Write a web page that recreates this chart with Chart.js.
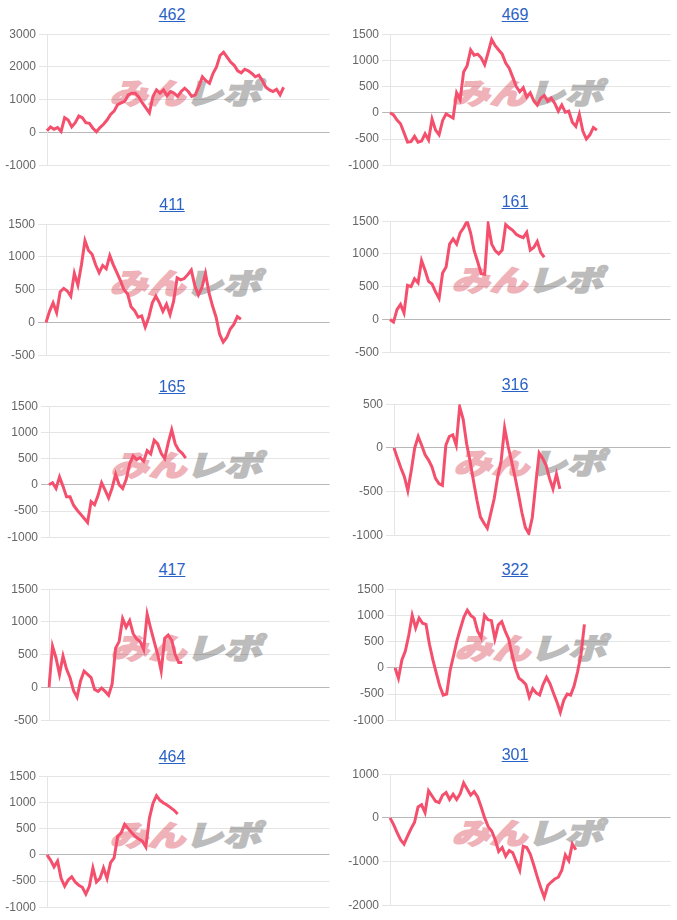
<!DOCTYPE html>
<html><head><meta charset="utf-8">
<script src="https://cdn.jsdelivr.net/npm/chart.js@4.4.0/dist/chart.umd.min.js"></script>
<style>
body{margin:0;background:#fff;}
#page{position:relative;width:677px;height:920px;overflow:hidden;font-family:"Liberation Sans",Arial,sans-serif;}
.title{position:absolute;width:344px;text-align:center;font-size:16px;line-height:18px;z-index:2;}
.title a{color:#2a62c4;text-decoration:underline;}
.wm{position:absolute;font-family:"Noto Sans CJK JP",sans-serif;font-weight:900;font-size:29px;line-height:32px;white-space:nowrap;transform:translate(-50%,-50%) skewX(-16deg) scaleX(1.3);letter-spacing:0px;z-index:0;}
.wm .p{color:#f0b2b9;-webkit-text-stroke:1.6px #f0b2b9;}
.wm .g{color:#bcbcbc;-webkit-text-stroke:1.6px #bcbcbc;}
canvas{position:absolute;z-index:1;}
</style></head>
<body><div id="page"></div>
<script>
// ---- data ----
const chartTitles = ["462","469","411","161","165","316","417","322","464","301"];
const dayLabels = Array.from({length:81}, (_, i) => String(i + 1));

const d462 = [50,170,100,150,30,450,380,170,300,500,450,300,280,130,20,150,250,380,550,650,850,900,950,1150,1200,1200,1080,900,750,600,1100,1300,1200,1300,1120,1250,1200,1100,1250,1350,1250,1100,1150,1400,1700,1580,1500,1800,2000,2350,2450,2300,2150,2050,1880,1820,1930,1880,1800,1700,1750,1580,1380,1300,1250,1320,1150,1380];
const d469 = [0,-40,-140,-210,-380,-560,-550,-450,-560,-540,-400,-520,-120,-330,-420,-150,-20,-60,-100,380,250,780,900,1200,1100,1120,1050,920,1150,1400,1280,1200,1120,950,850,680,500,400,480,300,380,230,150,280,330,220,280,180,30,150,10,30,-180,-260,-30,-350,-500,-420,-280,-330];
const d411 = [0,170,300,150,470,520,480,400,750,570,880,1250,1100,1040,880,760,870,820,1020,880,760,640,500,440,240,180,80,100,-70,80,300,400,300,170,280,120,320,680,650,670,730,800,560,420,530,750,450,250,80,-180,-300,-230,-100,-30,90,50];
const d161 = [0,-40,150,230,100,520,500,620,560,900,750,580,540,420,320,710,800,1150,1230,1150,1320,1400,1500,1320,1050,880,700,690,1450,1150,1050,1000,1060,1450,1400,1360,1300,1270,1250,1330,1060,1100,1190,1020,950];
const d165 = [0,40,-70,150,-30,-230,-230,-390,-480,-560,-640,-720,-320,-380,-200,40,-100,-250,-60,200,0,-70,100,400,550,480,520,450,650,590,850,780,600,500,800,1050,780,660,600,510];
const d316 = [0,-120,-230,-330,-490,-260,0,130,30,-80,-140,-220,-350,-410,-430,30,130,150,30,470,330,50,-150,-380,-600,-790,-860,-920,-750,-580,-330,-150,230,20,-150,-330,-530,-740,-910,-980,-800,-420,-60,-120,-200,-350,-470,-300,-470];
const d417 = [0,630,450,200,480,280,150,-50,-150,100,250,200,150,-30,-60,-10,-60,-120,50,600,700,1050,920,1020,820,740,700,580,1120,900,700,500,250,750,800,720,500,380,380];
const d322 = [0,-200,150,320,620,1000,760,950,850,830,450,150,-100,-350,-520,-500,-50,230,520,750,970,1100,1000,950,700,580,1000,920,900,550,820,880,700,550,250,-20,-200,-250,-320,-560,-400,-480,-520,-320,-180,-300,-480,-650,-850,-620,-500,-520,-350,-80,250,830];
const d464 = [0,-100,-230,-120,-450,-600,-480,-420,-520,-580,-620,-750,-600,-250,-520,-450,-250,-450,-150,-60,350,420,580,500,420,350,300,260,150,700,980,1130,1040,990,950,900,850,780];
const d301 = [0,-150,-330,-500,-600,-420,-250,-100,250,300,120,620,500,380,350,520,580,420,540,420,550,800,660,520,600,480,250,0,-200,-300,-500,-770,-680,-880,-750,-800,-1000,-1200,-650,-680,-830,-1080,-1350,-1600,-1820,-1550,-1470,-1400,-1360,-1200,-850,-980,-600,-730];

const yMin  = [-1000,-1000,-500,-500,-1000,-1000,-500,-1000,-1000,-2000];
const yMax  = [3000,1500,1500,1500,1500,500,1500,1500,1500,1000];
const yStep = [1000,500,500,500,500,500,500,500,500,1000];

const seriesList = [d462,d469,d411,d161,d165,d316,d417,d322,d464,d301];

// ---- layout ----
const colX = [0, 343];
const colW = [331, 329];
const plotTops = [34,34,224,221,406,404,589,589,776,774];
const axisWidths = [47,47,46,47,49,51,49,52,47,47];
const PLOT_H = 131;

const page = document.getElementById('page');

seriesList.forEach((data, i) => {
  const col = i % 2;
  const x0 = colX[col], w = colW[col], top = plotTops[i], aw = axisWidths[i];

  const t = document.createElement('div');
  t.className = 'title';
  t.style.left = x0 + 'px';
  t.style.top = (top - 28) + 'px';
  const a = document.createElement('a');
  a.href = '#';
  a.textContent = chartTitles[i];
  t.appendChild(a);
  page.appendChild(t);

  const wm = document.createElement('div');
  wm.className = 'wm';
  wm.style.left = (x0 + aw + (w - aw) / 2) + 'px';
  wm.style.top = (top + 57) + 'px';
  wm.innerHTML = '<span class="p">みん</span><span class="g">レポ</span>';
  page.appendChild(wm);

  const c = document.createElement('canvas');
  let h = PLOT_H + 16;
  c.width = w; c.height = h;
  c.style.width = w + 'px'; c.style.height = h + 'px';
  c.style.left = x0 + 'px';
  c.style.top = (top - 8) + 'px';
  page.appendChild(c);

  const chart = new Chart(c, {
    type: 'line',
    data: {
      labels: dayLabels,
      datasets: [{
        data: data,
        borderColor: '#f4506d',
        backgroundColor: '#f4506d',
        borderWidth: 3,
        pointRadius: 0,
        pointHoverRadius: 0,
        tension: 0,
        fill: false
      }]
    },
    options: {
      responsive: false,
      maintainAspectRatio: false,
      animation: false,
      layout: { padding: 0 },
      plugins: { legend: { display: false }, tooltip: { enabled: false }, title: { display: false } },
      scales: {
        x: { display: false },
        y: {
          min: yMin[i], max: yMax[i],
          afterFit: (s) => { s.width = aw; },
          ticks: { stepSize: yStep[i], color: '#666', font: { size: 12 }, callback: (v) => String(v) },
          grid: {
            color: (ctx) => (ctx.tick && ctx.tick.value === 0) ? 'rgba(0,0,0,0.28)' : 'rgba(0,0,0,0.1)'
          },
          border: { display: true, color: 'rgba(0,0,0,0.1)' }
        }
      }
    }
  });

  // fit canvas so the plot area is exactly PLOT_H tall and starts at plotTop
  for (let k = 0; k < 3; k++) {
    const ca = chart.chartArea;
    const diff = PLOT_H - (ca.bottom - ca.top);
    if (Math.abs(diff) < 0.5) break;
    h = h + diff;
    c.style.height = h + 'px';
    chart.resize(w, h);
  }
  c.style.top = (top - chart.chartArea.top) + 'px';
});
</script>
</body></html>
